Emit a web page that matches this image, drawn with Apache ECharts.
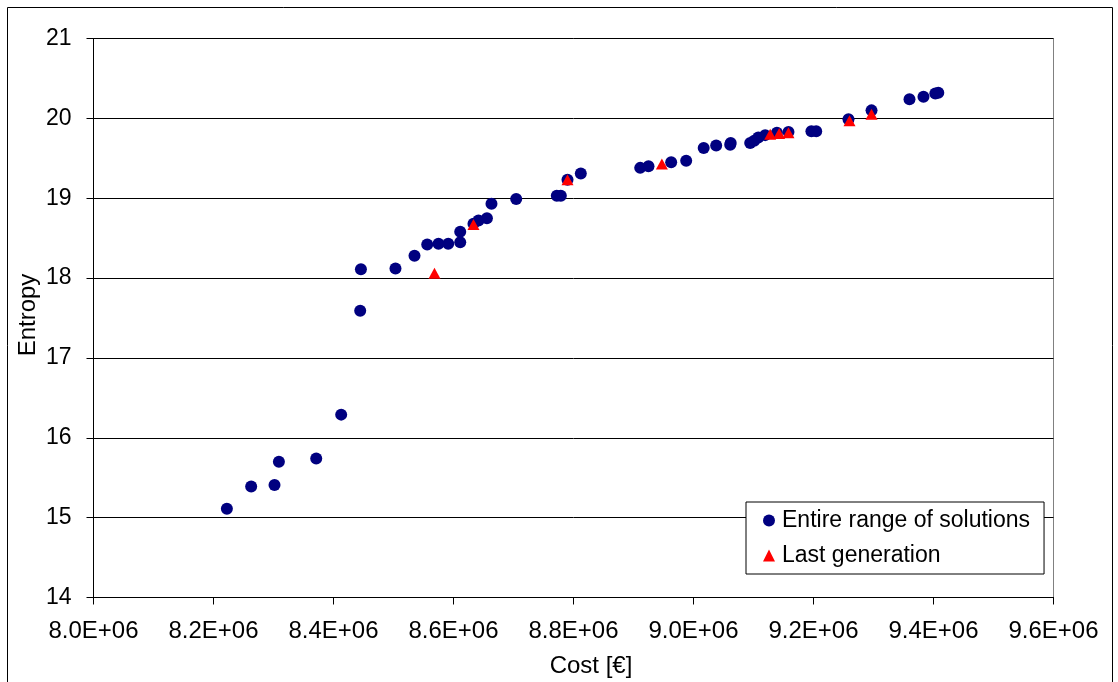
<!DOCTYPE html>
<html>
<head>
<meta charset="utf-8">
<title>Cost vs Entropy</title>
<script src="https://cdn.jsdelivr.net/npm/echarts@6/dist/echarts.min.js"></script>
<style>
  html, body { margin: 0; padding: 0; background: #fff; }
  #chart { width: 1118px; height: 682px; }
</style>
</head>
<body>
<div id="chart"></div>
<script>
// Cost [€] and entropy of every solution found
const allCost = [
  8.2223e6, 8.2628e6, 8.3017e6, 8.3090e6, 8.3712e6, 8.4128e6, 8.4445e6, 8.4457e6,
  8.5033e6, 8.5350e6, 8.5562e6, 8.5750e6, 8.5912e6, 8.6112e6, 8.6112e6, 8.6333e6,
  8.6417e6, 8.6557e6, 8.6633e6, 8.7045e6, 8.7722e6, 8.7789e6, 8.7900e6, 8.8122e6,
  8.9112e6, 8.9250e6, 8.9628e6, 8.9878e6, 9.0170e6, 9.0378e6, 9.0612e6, 9.0620e6,
  9.0945e6, 9.1012e6, 9.1080e6, 9.1195e6, 9.1390e6, 9.1583e6, 9.1965e6, 9.2045e6,
  9.2583e6, 9.2967e6, 9.3600e6, 9.3833e6, 9.4030e6, 9.4080e6
];
const allEntropy = [
  15.11, 15.39, 15.41, 15.70, 15.74, 16.29, 17.59, 18.11,
  18.12, 18.28, 18.42, 18.43, 18.43, 18.45, 18.58, 18.68,
  18.72, 18.75, 18.93, 18.99, 19.03, 19.03, 19.23, 19.31,
  19.38, 19.40, 19.45, 19.47, 19.63, 19.66, 19.67, 19.69,
  19.69, 19.72, 19.76, 19.79, 19.82, 19.83, 19.84, 19.84,
  19.99, 20.10, 20.24, 20.27, 20.31, 20.32
];

// Solutions of the last generation
const lastCost = [8.5683e6, 8.6333e6, 8.7900e6, 8.9473e6, 9.1278e6, 9.1428e6, 9.1583e6, 9.2600e6, 9.2967e6];
const lastEntropy = [18.06, 18.67, 19.23, 19.43, 19.80, 19.81, 19.82, 19.97, 20.05];

const seriesNames = ['Entire range of solutions', 'Last generation'];
const xAxisTitle = 'Cost [€]';
const yAxisTitle = 'Entropy';

const FONT = '"Liberation Sans", Arial, sans-serif';

const pairs = (xs, ys) => xs.map((x, i) => [x, ys[i]]);

const chart = echarts.init(document.getElementById('chart'), null, { renderer: 'canvas' });

chart.setOption({
  backgroundColor: '#fff',
  animation: false,
  grid: {
    left: 93.5, right: 64.5, top: 38.5, bottom: 84.5,
    show: true, backgroundColor: '#fff', borderColor: '#808080', borderWidth: 1
  },
  xAxis: {
    type: 'value',
    min: 8.0e6, max: 9.6e6, interval: 0.2e6,
    axisLine: { show: true, onZero: false, lineStyle: { color: '#000', width: 1 } },
    axisTick: { show: true, inside: false, length: 7, lineStyle: { color: '#000' } },
    splitLine: { show: false },
    axisLabel: {
      margin: 22, color: '#000', fontFamily: FONT, fontSize: 24,
      showMinLabel: true, showMaxLabel: true,
      formatter: v => (v / 1e6).toFixed(1) + 'E+06'
    }
  },
  yAxis: {
    type: 'value',
    min: 14, max: 21, interval: 1,
    axisLine: { show: true, onZero: false, lineStyle: { color: '#000', width: 1 } },
    axisTick: { show: true, inside: false, length: 7, lineStyle: { color: '#000' } },
    splitLine: { show: true, lineStyle: { color: '#000', width: 1 } },
    axisLabel: { margin: 22, color: '#000', fontFamily: FONT, fontSize: 23 }
  },
  legend: {
    orient: 'vertical',
    left: 746, top: 502,
    backgroundColor: '#fff',
    borderColor: '#000', borderWidth: 1, borderRadius: 0,
    padding: [7, 14, 7, 17],
    itemWidth: 12, itemHeight: 12, itemGap: 12,
    textStyle: { color: '#000', fontFamily: FONT, fontSize: 23, padding: [0, 0, 0, 2] },
    data: [
      { name: seriesNames[0], icon: 'circle' },
      { name: seriesNames[1], icon: 'triangle' }
    ]
  },
  graphic: [
    {
      type: 'rect', silent: true, z: -1,
      shape: { x: 7.5, y: 7.5, width: 1105, height: 700 },
      style: { fill: 'none', stroke: '#000', lineWidth: 1 }
    },
    {
      type: 'text', x: 591, y: 666,
      style: {
        text: xAxisTitle, fill: '#000', font: '24px ' + FONT,
        textAlign: 'center', textVerticalAlign: 'middle'
      }
    },
    {
      type: 'text', x: 28, y: 315, rotation: Math.PI / 2,
      style: {
        text: yAxisTitle, fill: '#000', font: '24px ' + FONT,
        textAlign: 'center', textVerticalAlign: 'middle'
      }
    }
  ],
  series: [
    {
      name: seriesNames[0],
      type: 'scatter',
      symbol: 'circle',
      symbolSize: 12,
      itemStyle: { color: '#000080', opacity: 1 },
      data: pairs(allCost, allEntropy)
    },
    {
      name: seriesNames[1],
      type: 'scatter',
      symbol: 'triangle',
      symbolSize: [12, 11],
      itemStyle: { color: '#ff0000', opacity: 1 },
      data: pairs(lastCost, lastEntropy)
    }
  ]
});
</script>
</body>
</html>
